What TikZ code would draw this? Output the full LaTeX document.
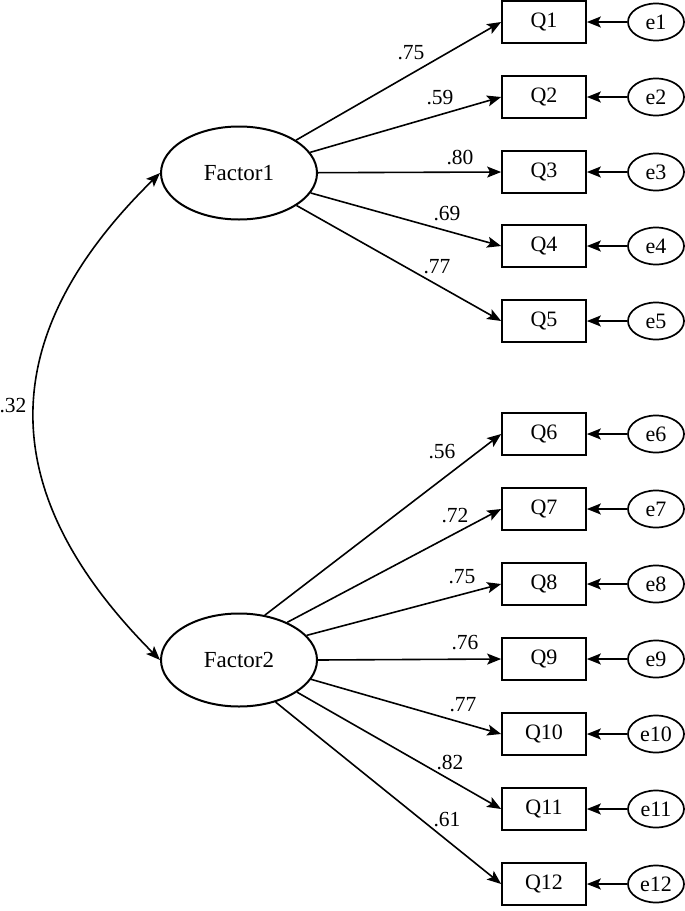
\documentclass[tikz,border=0pt]{standalone}
\usepackage{fontspec}
\setmainfont{Liberation Serif}
\usetikzlibrary{arrows.meta,shapes.geometric}
\begin{document}
\begin{tikzpicture}[x=1pt,y=-1pt,
  latent/.style={ellipse,draw,line width=2pt,minimum width=156pt,minimum height=93pt,inner sep=0pt,font=\fontsize{23}{25}\selectfont},
  errv/.style={ellipse,draw,line width=1.7pt,minimum width=56pt,minimum height=37pt,inner sep=0pt,font=\fontsize{22}{24}\selectfont},
  obs/.style={rectangle,draw,line width=1.7pt,minimum width=84pt,minimum height=42pt,inner sep=0pt,font=\fontsize{22}{24}\selectfont},
  path/.style={line width=1.6pt,-{Stealth[length=14pt,width=11pt,inset=3pt]}},
  lab/.style={font=\fontsize{21.5}{23}\selectfont,inner sep=0pt}]
\useasboundingbox (0,0) rectangle (685,911);
\node[latent] (F1) at (239,173) {Factor1};
\node[latent] (F2) at (239,660) {Factor2};
\foreach \i/\y in {1/22,2/97,3/172,4/246,5/321,6/434,7/509,8/584,9/659,10/734,11/809,12/884}{
  \node[obs] (Q\i) at (544,\y) {Q\i};
  \node[errv] (e\i) at (656,\y) {e\i};
  \draw[path] (e\i) -- (Q\i);
}
\foreach \i in {1,...,5}{\draw[path] (F1) -- (Q\i.west);}
\foreach \i/\a in {6/60,7/38,8/20,9/0,10/-15,11/-29,12/-49}{\draw[path] (F2.\a) -- (Q\i.west);}
\draw[line width=1.6pt,{Stealth[length=14pt,width=11pt,inset=3pt]}-{Stealth[length=14pt,width=11pt,inset=3pt]}]
  (F1.west) .. controls (-10,340) and (-4,495) .. (F2.west);
\node[lab] (r) at (13,406) {.32};
\node[lab] (l1) at (411,53) {.75};
\node[lab] (l2) at (440,98) {.59};
\node[lab] (l3) at (460,157) {.80};
\node[lab] (l4) at (447,214) {.69};
\node[lab] (l5) at (437,267) {.77};
\node[lab] (l6) at (442,452) {.56};
\node[lab] (l7) at (455,516) {.72};
\node[lab] (l8) at (462,577) {.75};
\node[lab] (l9) at (465,643) {.76};
\node[lab] (l10) at (463,705) {.77};
\node[lab] (l11) at (450,762) {.82};
\node[lab] (l12) at (447,820) {.61};
\end{tikzpicture}
\end{document}
